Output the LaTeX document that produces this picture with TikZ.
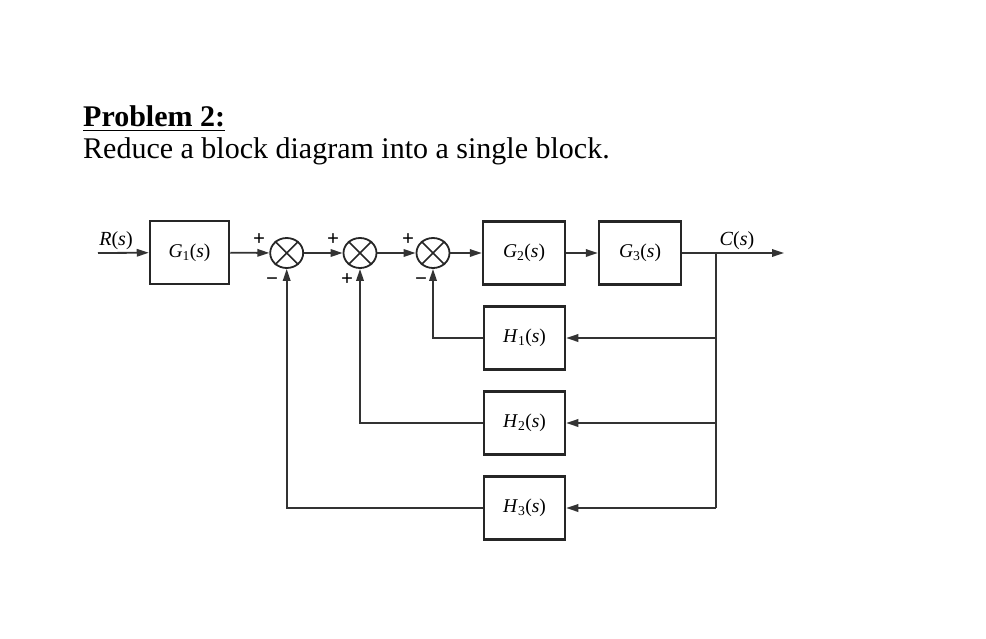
\documentclass[tikz,border=0pt]{standalone}
\usepackage{fontspec}
\setmainfont{Liberation Serif}
\usetikzlibrary{arrows.meta,shapes.geometric}
\begin{document}
\begin{tikzpicture}[x=1pt,y=-1pt,
  line/.style={draw=black!80, line width=1.8pt},
  arr/.style={line, -{Triangle[length=12pt,width=7.5pt]}},
  blk/.style={draw=black!85, line width=2.5pt, minimum width=81pt, minimum height=63pt, inner sep=0pt, font=\fontsize{19.5}{19.5}\selectfont},
  sumj/.style={draw=black!85, line width=1.8pt, ellipse, minimum width=33pt, minimum height=30pt, inner sep=0pt},
  sgn/.style={font=\fontsize{21}{21}\selectfont\bfseries, inner sep=0pt},
  lbl/.style={font=\fontsize{20}{20}\selectfont, inner sep=0pt}
]
\useasboundingbox (0,0) rectangle (986,638);

% title
\node[anchor=base west, inner sep=0pt, font=\fontsize{30}{31}\selectfont\bfseries] (title) at (83,126) {Problem 2:};
\draw[line width=1.6pt] ([yshift=-4.5pt]title.base west) -- ([yshift=-4.5pt]title.base east);
\node[anchor=base west, inner sep=0pt, font=\fontsize{30}{31}\selectfont] (sub) at (83,158) {Reduce a block diagram into a single block.};

% blocks
\node[blk, minimum width=79pt] (g1) at (189.5,252.5) {\textit{G}\textsubscript{1}(\textit{s})};
\node[blk, minimum width=82pt] (g2) at (524,253) {\textit{G}\textsubscript{2}(\textit{s})};
\node[blk, minimum width=82pt] (g3) at (640,253) {\textit{G}\textsubscript{3}(\textit{s})};
\node[blk] (h1) at (524.5,338) {\textit{H}\textsubscript{1}(\textit{s})};
\node[blk] (h2) at (524.5,423) {\textit{H}\textsubscript{2}(\textit{s})};
\node[blk] (h3) at (524.5,508) {\textit{H}\textsubscript{3}(\textit{s})};

% summing junctions
\node[sumj] (s1) at (286.7,253) {};
\node[sumj] (s2) at (360,253) {};
\node[sumj] (s3) at (433,253) {};
\foreach \s in {s1,s2,s3}{
  \draw[line width=1.5pt, draw=black!85] (\s.45) -- (\s.225);
  \draw[line width=1.5pt, draw=black!85] (\s.135) -- (\s.315);
}

% coordinates
\coordinate (in) at (98,253);
\coordinate (out) at (784,253);
\coordinate (br) at (716,253);
\coordinate (b1) at (716,338);
\coordinate (b2) at (716,423);
\coordinate (b3) at (716,508);

% forward path
\draw[arr] (in) -- (g1);
\draw[arr] (g1) -- (s1);
\draw[arr] (s1) -- (s2);
\draw[arr] (s2) -- (s3);
\draw[arr] (s3) -- (g2);
\draw[arr] (g2) -- (g3);
\draw[arr] (g3) -- (out);

% feedback
\draw[line] (br) -- (b3);
\draw[arr] (b1) -- (h1);
\draw[arr] (b2) -- (h2);
\draw[arr] (b3) -- (h3);
\draw[arr] (h1.west) -| (s3.south);
\draw[arr] (h2.west) -| (s2.south);
\draw[arr] (h3.west) -| (s1.south);

% labels
\node[lbl] (rl) at (116,241) {\textit{R}(\textit{s})};
\node[lbl] (cl) at (737,241) {\textit{C}(\textit{s})};

% signs
\node[sgn] (p1) at (259,240) {+};
\node[sgn] (m1) at (272,282) {\textminus};
\node[sgn] (p2) at (333,240) {+};
\node[sgn] (p2b) at (347,280) {+};
\node[sgn] (p3) at (408,240) {+};
\node[sgn] (m3) at (421,282) {\textminus};
\end{tikzpicture}
\end{document}
